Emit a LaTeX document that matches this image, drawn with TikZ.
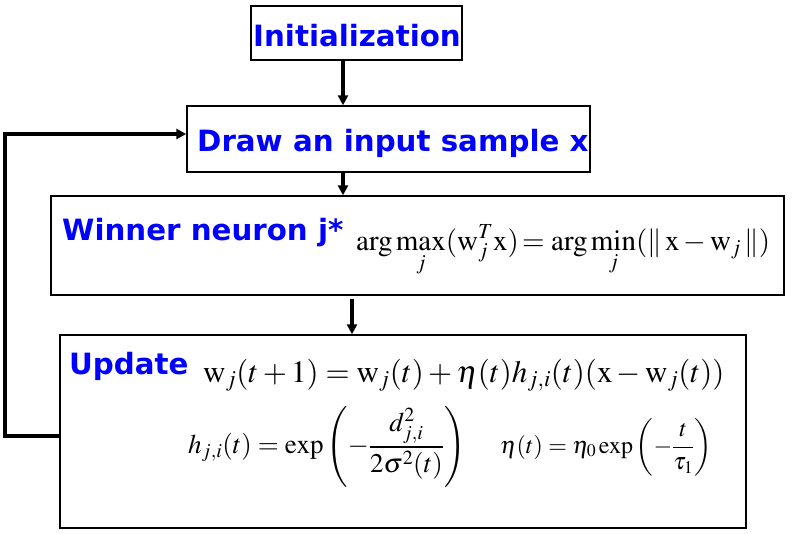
\documentclass[tikz,border=0pt]{standalone}
\usepackage{amsmath}
\usepackage{mathptmx}
\usepackage{fontspec}
\newfontfamily\verd{DejaVu Sans}[BoldFont={DejaVu Sans Bold}]
\usetikzlibrary{arrows.meta,calc}
\definecolor{tblue}{RGB}{0,0,255}
\begin{document}
\begin{tikzpicture}[x=1pt,y=-1pt,
  box/.style={draw,line width=1.4pt,minimum width=#1,inner sep=0pt},
  title/.style={font=\verd\bfseries\fontsize{29.3}{33}\selectfont,text=tblue,inner sep=0pt,anchor=base west},
  flow/.style={line width=3.4pt,-{Triangle[length=10pt,width=10pt]}},
  eq/.style={inner sep=0pt,font=\fontsize{29}{34}\selectfont}]
\useasboundingbox (0,0) rectangle (792,533);
\node[box=211pt,minimum height=54pt] (init) at (356.5,33) {};
\node[box=403pt,minimum height=66pt] (draw) at (388.5,139) {};
\node[box=733pt,minimum height=99pt] (win) at (417.5,245.5) {};
\node[box=686pt,minimum height=193pt] (upd) at (403,431.5) {};
\node[title] (tinit) at (253,46) {Initialization};
\node[title] (tdraw) at (197,151) {Draw an input sample x};
\node[title] (twin) at (62,240) {Winner neuron j*};
\node[title] (tupd) at (69,374) {Update};
\node[eq,anchor=base west] (ewin) at (356,250) {$\displaystyle \arg\max_j(\mathrm{w}_j^T\mathrm{x})\!=\arg\min_j(\|\,\mathrm{x}-\mathrm{w}_j\,\|)$};
\node[eq,anchor=base west,font=\fontsize{31}{35}\selectfont] (eupd) at (203,382) {$\mathrm{w}_j(t+1)=\mathrm{w}_j(t)+\eta(t)h_{j,i}(t)(\mathrm{x}-\mathrm{w}_j(t))$};
\node[eq,anchor=west,font=\fontsize{27}{31}\selectfont] (eh) at (188,447) {$h_{j,i}(t)=\exp\left(-\dfrac{d_{j,i}^2}{2\sigma^2(t)}\right)$};
\node[eq,anchor=west,font=\fontsize{24}{28}\selectfont] (eeta) at (500,447) {$\eta(t)=\eta_0\exp\left(-\dfrac{t}{\tau_1}\right)$};
\coordinate (wout) at (352,299);
\coordinate (c1) at (5,436);
\coordinate (c2) at (5,134);
\draw[flow] (init.south -| 343,0) -- (draw.north -| 343,0);
\draw[flow] (draw.south -| 343,0) -- (win.north -| 343,0);
\draw[flow] (wout) -- (upd.north -| wout);
\draw[flow] (upd.west |- c1) -- (c1) -- (c2) -- (draw.west |- c2);
\end{tikzpicture}
\end{document}
